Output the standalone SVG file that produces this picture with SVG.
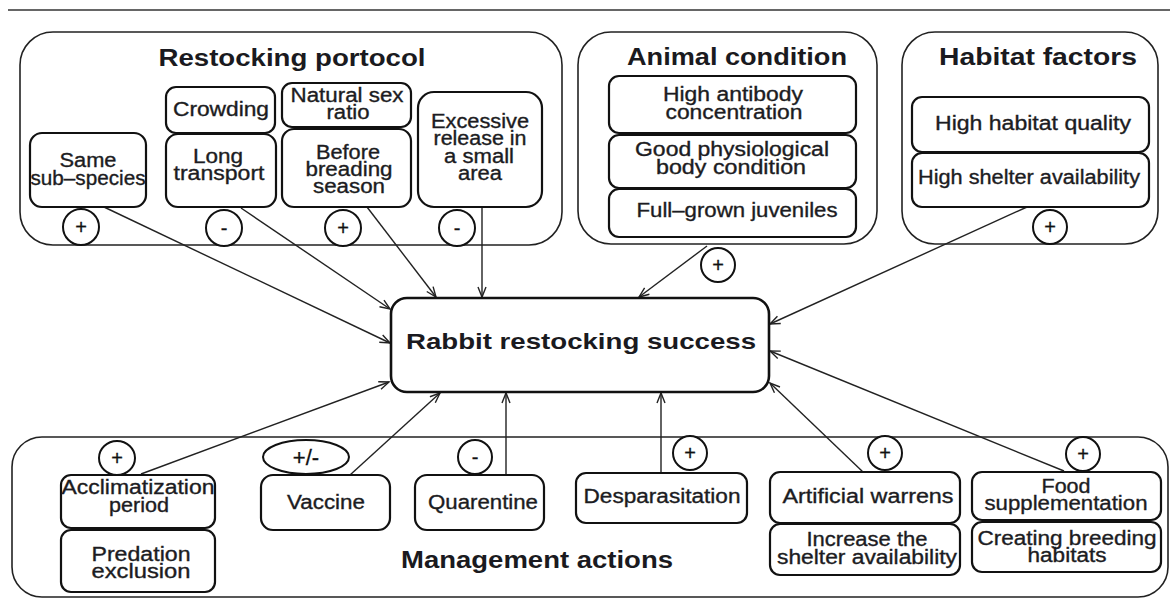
<svg xmlns="http://www.w3.org/2000/svg" width="1170" height="599" viewBox="0 0 1170 599">
<defs>
<marker id="ah" markerUnits="userSpaceOnUse" markerWidth="14" markerHeight="12" refX="11" refY="5" orient="auto">
<path d="M1,1 L11,5 L1,9" fill="none" stroke="#222" stroke-width="1.4"/>
</marker>
<style>
.grp{fill:none;stroke:#222;stroke-width:1.6}
.box{fill:#fff;stroke:#111;stroke-width:2.2}
.sg{fill:#fff;stroke:#111;stroke-width:2}
.t{font-family:"Liberation Sans",Arial,sans-serif;font-size:20px;fill:#1c1c22;stroke:#1c1c22;stroke-width:0.35;text-anchor:middle}
.h{font-family:"Liberation Sans",Arial,sans-serif;font-size:23px;font-weight:bold;fill:#1a1a20;text-anchor:middle}
.s{font-family:"Liberation Sans",Arial,sans-serif;font-size:20px;fill:#111;stroke:#111;stroke-width:0.3;text-anchor:middle}
.c{fill:none;stroke:#222;stroke-width:1.4;marker-end:url(#ah)}
</style>
</defs>
<rect width="1170" height="599" fill="#fff"/>
<line x1="8" y1="10" x2="1170" y2="10" stroke="#333" stroke-width="1.6"/>

<g id="group-restocking">
<rect class="grp" x="20" y="32" width="542" height="213" rx="33"/>
<text class="h" x="292" y="66" textLength="267" lengthAdjust="spacingAndGlyphs">Restocking portocol</text>
</g>
<g id="group-animal">
<rect class="grp" x="578" y="32" width="299" height="212" rx="33"/>
<text class="h" x="737" y="65" textLength="220" lengthAdjust="spacingAndGlyphs">Animal condition</text>
</g>
<g id="group-habitat">
<rect class="grp" x="902" y="32" width="256" height="212" rx="33"/>
<text class="h" x="1038" y="65" textLength="198" lengthAdjust="spacingAndGlyphs">Habitat factors</text>
</g>
<g id="group-management">
<rect class="grp" x="12" y="437" width="1156" height="160" rx="30"/>
<text class="h" x="537" y="568" textLength="272" lengthAdjust="spacingAndGlyphs">Management actions</text>
</g>

<g id="connectors">
<line class="c" x1="104" y1="207" x2="390" y2="343"/>
<line class="c" x1="241" y1="208" x2="390" y2="309"/>
<line class="c" x1="367" y1="207" x2="436" y2="297"/>
<line class="c" x1="482" y1="207" x2="482" y2="297"/>
<line class="c" x1="707" y1="246" x2="639" y2="297"/>
<line class="c" x1="1027" y1="207" x2="770" y2="324"/>
<line class="c" x1="1064" y1="471" x2="770" y2="351"/>
<line class="c" x1="863" y1="472" x2="770" y2="383"/>
<line class="c" x1="661" y1="472" x2="661" y2="393"/>
<line class="c" x1="506" y1="475" x2="506" y2="393"/>
<line class="c" x1="350" y1="475" x2="440" y2="393"/>
<line class="c" x1="141" y1="474" x2="389" y2="382"/>
</g>

<g id="same-subspecies">
<rect class="box" x="30" y="133" width="116" height="74" rx="12"/>
<text class="t" x="88" y="167" textLength="57" lengthAdjust="spacingAndGlyphs">Same</text>
<text class="t" x="88" y="185" textLength="115" lengthAdjust="spacingAndGlyphs">sub–species</text>
</g>
<g id="crowding">
<rect class="box" x="166" y="87" width="109" height="46" rx="10"/>
<text class="t" x="221" y="116" textLength="96" lengthAdjust="spacingAndGlyphs">Crowding</text>
</g>
<g id="long-transport">
<rect class="box" x="166" y="134" width="110" height="73" rx="12"/>
<text class="t" x="218" y="163" textLength="50" lengthAdjust="spacingAndGlyphs">Long</text>
<text class="t" x="219" y="180" textLength="91" lengthAdjust="spacingAndGlyphs">transport</text>
</g>
<g id="natural-sex-ratio">
<rect class="box" x="282" y="83" width="129" height="44" rx="10"/>
<text class="t" x="347" y="102" textLength="113" lengthAdjust="spacingAndGlyphs">Natural sex</text>
<text class="t" x="348" y="119" textLength="43" lengthAdjust="spacingAndGlyphs">ratio</text>
</g>
<g id="before-breading-season">
<rect class="box" x="282" y="129" width="129" height="78" rx="12"/>
<text class="t" x="348" y="159" textLength="64" lengthAdjust="spacingAndGlyphs">Before</text>
<text class="t" x="349" y="176" textLength="87" lengthAdjust="spacingAndGlyphs">breading</text>
<text class="t" x="349" y="193" textLength="72" lengthAdjust="spacingAndGlyphs">season</text>
</g>
<g id="excessive-release">
<rect class="box" x="418" y="92" width="124" height="115" rx="16"/>
<text class="t" x="480" y="128" textLength="98" lengthAdjust="spacingAndGlyphs">Excessive</text>
<text class="t" x="480" y="145" textLength="93" lengthAdjust="spacingAndGlyphs">release in</text>
<text class="t" x="479" y="163" textLength="70" lengthAdjust="spacingAndGlyphs">a small</text>
<text class="t" x="480" y="180" textLength="44" lengthAdjust="spacingAndGlyphs">area</text>
</g>

<g id="high-antibody">
<rect class="box" x="609" y="76" width="247" height="57" rx="10"/>
<text class="t" x="733" y="101" textLength="140" lengthAdjust="spacingAndGlyphs">High antibody</text>
<text class="t" x="734" y="119" textLength="137" lengthAdjust="spacingAndGlyphs">concentration</text>
</g>
<g id="good-body-condition">
<rect class="box" x="609" y="135" width="247" height="53" rx="10"/>
<text class="t" x="732" y="156" textLength="194" lengthAdjust="spacingAndGlyphs">Good physiological</text>
<text class="t" x="731" y="174" textLength="150" lengthAdjust="spacingAndGlyphs">body condition</text>
</g>
<g id="full-grown-juveniles">
<rect class="box" x="609" y="189" width="247" height="48" rx="10"/>
<text class="t" x="737" y="217" textLength="201" lengthAdjust="spacingAndGlyphs">Full–grown juveniles</text>
</g>

<g id="high-habitat-quality">
<rect class="box" x="912" y="97" width="237" height="55" rx="10"/>
<text class="t" x="1033" y="130" textLength="196" lengthAdjust="spacingAndGlyphs">High habitat quality</text>
</g>
<g id="high-shelter-availability">
<rect class="box" x="912" y="153" width="237" height="54" rx="10"/>
<text class="t" x="1029" y="184" textLength="222" lengthAdjust="spacingAndGlyphs">High shelter availability</text>
</g>

<g id="rabbit-restocking-success">
<rect class="box" x="391" y="298" width="378" height="94" rx="16" style="stroke-width:2.6"/>
<text class="h" x="581" y="349" style="font-size:22px" textLength="350" lengthAdjust="spacingAndGlyphs">Rabbit restocking success</text>
</g>

<g id="acclimatization-period">
<rect class="box" x="61" y="475" width="154" height="53" rx="10"/>
<text class="t" x="138" y="494" textLength="153" lengthAdjust="spacingAndGlyphs">Acclimatization</text>
<text class="t" x="139" y="512" textLength="60" lengthAdjust="spacingAndGlyphs">period</text>
</g>
<g id="predation-exclusion">
<rect class="box" x="61" y="530" width="154" height="62" rx="10"/>
<text class="t" x="141" y="561" textLength="99" lengthAdjust="spacingAndGlyphs">Predation</text>
<text class="t" x="141" y="578" textLength="99" lengthAdjust="spacingAndGlyphs">exclusion</text>
</g>
<g id="vaccine">
<rect class="box" x="261" y="475" width="129" height="55" rx="12"/>
<text class="t" x="326" y="509" textLength="78" lengthAdjust="spacingAndGlyphs">Vaccine</text>
</g>
<g id="quarentine">
<rect class="box" x="415" y="475" width="129" height="55" rx="12"/>
<text class="t" x="483" y="509" textLength="110" lengthAdjust="spacingAndGlyphs">Quarentine</text>
</g>
<g id="desparasitation">
<rect class="box" x="576" y="473" width="171" height="50" rx="10"/>
<text class="t" x="662" y="503" textLength="157" lengthAdjust="spacingAndGlyphs">Desparasitation</text>
</g>
<g id="artificial-warrens">
<rect class="box" x="770" y="472" width="190" height="51" rx="10"/>
<text class="t" x="868" y="503" textLength="171" lengthAdjust="spacingAndGlyphs">Artificial warrens</text>
</g>
<g id="increase-shelter">
<rect class="box" x="770" y="524" width="190" height="51" rx="10"/>
<text class="t" x="867" y="546" textLength="121" lengthAdjust="spacingAndGlyphs">Increase the</text>
<text class="t" x="867" y="564" textLength="180" lengthAdjust="spacingAndGlyphs">shelter availability</text>
</g>
<g id="food-supplementation">
<rect class="box" x="972" y="472" width="189" height="48" rx="10"/>
<text class="t" x="1066" y="493" textLength="49" lengthAdjust="spacingAndGlyphs">Food</text>
<text class="t" x="1066" y="510" textLength="163" lengthAdjust="spacingAndGlyphs">supplementation</text>
</g>
<g id="creating-breeding-habitats">
<rect class="box" x="972" y="522" width="189" height="50" rx="10"/>
<text class="t" x="1067" y="545" textLength="179" lengthAdjust="spacingAndGlyphs">Creating breeding</text>
<text class="t" x="1067" y="562" textLength="79" lengthAdjust="spacingAndGlyphs">habitats</text>
</g>

<g id="signs">
<ellipse class="sg" cx="81" cy="227" rx="18" ry="18"/><text class="s" x="81" y="234">+</text>
<ellipse class="sg" cx="224" cy="228" rx="18" ry="18"/><text class="s" x="224" y="235">-</text>
<ellipse class="sg" cx="343" cy="228" rx="18" ry="18"/><text class="s" x="343" y="235">+</text>
<ellipse class="sg" cx="457" cy="228" rx="18" ry="18"/><text class="s" x="457" y="235">-</text>
<ellipse class="sg" cx="718" cy="265" rx="17" ry="17"/><text class="s" x="718" y="272">+</text>
<ellipse class="sg" cx="1050" cy="227" rx="17" ry="17"/><text class="s" x="1050" y="234">+</text>
<ellipse class="sg" cx="117" cy="458" rx="18" ry="17"/><text class="s" x="117" y="465">+</text>
<ellipse class="sg" cx="306" cy="457" rx="43" ry="17"/><text class="s" x="306" y="465" style="font-size:22px">+/-</text>
<ellipse class="sg" cx="475" cy="457" rx="17" ry="17"/><text class="s" x="475" y="464">-</text>
<ellipse class="sg" cx="690" cy="453" rx="17" ry="17"/><text class="s" x="690" y="460">+</text>
<ellipse class="sg" cx="885" cy="453" rx="17" ry="17"/><text class="s" x="885" y="460">+</text>
<ellipse class="sg" cx="1083" cy="454" rx="17" ry="17"/><text class="s" x="1083" y="461">+</text>
</g>
</svg>
